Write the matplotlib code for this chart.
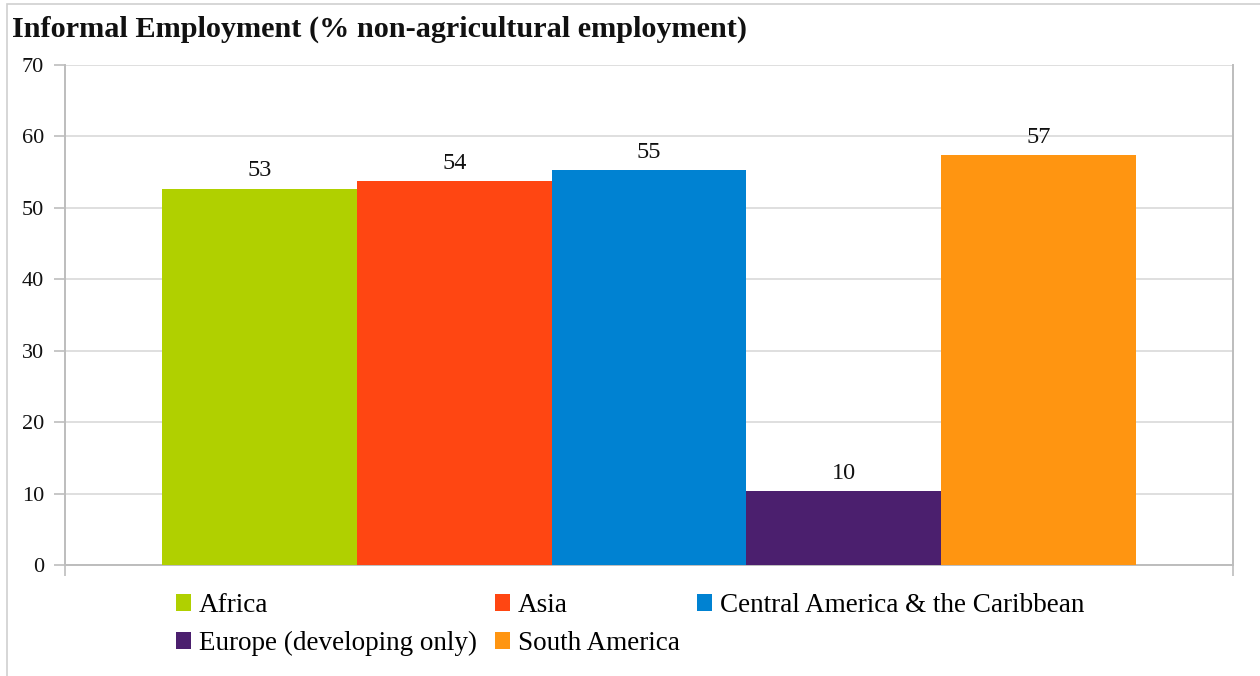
import matplotlib.pyplot as plt
from matplotlib.patches import Rectangle, Patch

regions = ["Africa", "Asia", "Central America & the Caribbean",
           "Europe (developing only)", "South America"]
informal_share = [52.7, 53.8, 55.3, 10.4, 57.4]
bar_colors = ["#B0D000", "#FF4612", "#0082D2", "#4B1F6E", "#FF9511"]
y_ticks = [0, 10, 20, 30, 40, 50, 60, 70]

plt.rcParams['font.family'] = ['Liberation Serif', 'DejaVu Serif']

fig = plt.figure(figsize=(12.6, 6.76), dpi=100)
W, H = 1260, 676
ax = fig.add_axes([65 / W, 1 - 565 / H, (1233 - 65) / W, (565 - 65) / H])

# all regions sit side by side in one category group
for i, (name, val, col) in enumerate(zip(regions, informal_share, bar_colors)):
    ax.bar(i + 0.5, val, width=1.0, color=col, label=name, zorder=3)
    ax.text(i + 0.5, val + 1.0, f"{val:.0f}", ha="center", va="bottom",
            fontsize=17.5, color="#111111", zorder=4)

ax.set_xlim(-0.5, 5.5)
ax.set_ylim(0, 70)
ax.set_yticks(y_ticks)
ax.set_yticklabels([str(t) for t in y_ticks], fontsize=16)
ax.set_xticks([-0.5, 5.5])
ax.set_xticklabels(["", ""])
ax.grid(axis="y", color="#D9D9D9", linewidth=1.2, zorder=0)
ax.tick_params(axis="y", length=8, width=1.2, color="#BDBDBD", pad=7,
               labelcolor="#111111")
ax.tick_params(axis="x", length=8, width=1.2, color="#BDBDBD")
for side in ["left", "right", "bottom"]:
    ax.spines[side].set_color("#BDBDBD")
    ax.spines[side].set_linewidth(1.4)
ax.spines["top"].set_visible(False)

fig.text(12 / W, 1 - 37 / H, "Informal Employment (% non-agricultural employment)",
         fontsize=21.8, fontweight="bold", ha="left", va="baseline", color="#111111")

# legend filled column-wise, so reorder to read row by row
order = [0, 3, 1, 4, 2]
handles = [Patch(facecolor=bar_colors[k], edgecolor="none") for k in order]
labels = [regions[k] for k in order]
fig.legend(handles, labels, ncol=3, loc="upper left",
           bbox_to_anchor=(176 / W, 1 - 593 / H), frameon=False,
           fontsize=19.5, handlelength=0.55, handleheight=0.55,
           handletextpad=0.3, columnspacing=0.65, labelspacing=0.48,
           borderpad=0, borderaxespad=0)

# thin frame around the chart area
fig.add_artist(Rectangle((7 / W, -0.05), 1.2, 1.05 - 4 / H, transform=fig.transFigure,
                         fill=False, edgecolor="#CFCFCF", linewidth=1.2))

fig.savefig("out.png", dpi=100)
